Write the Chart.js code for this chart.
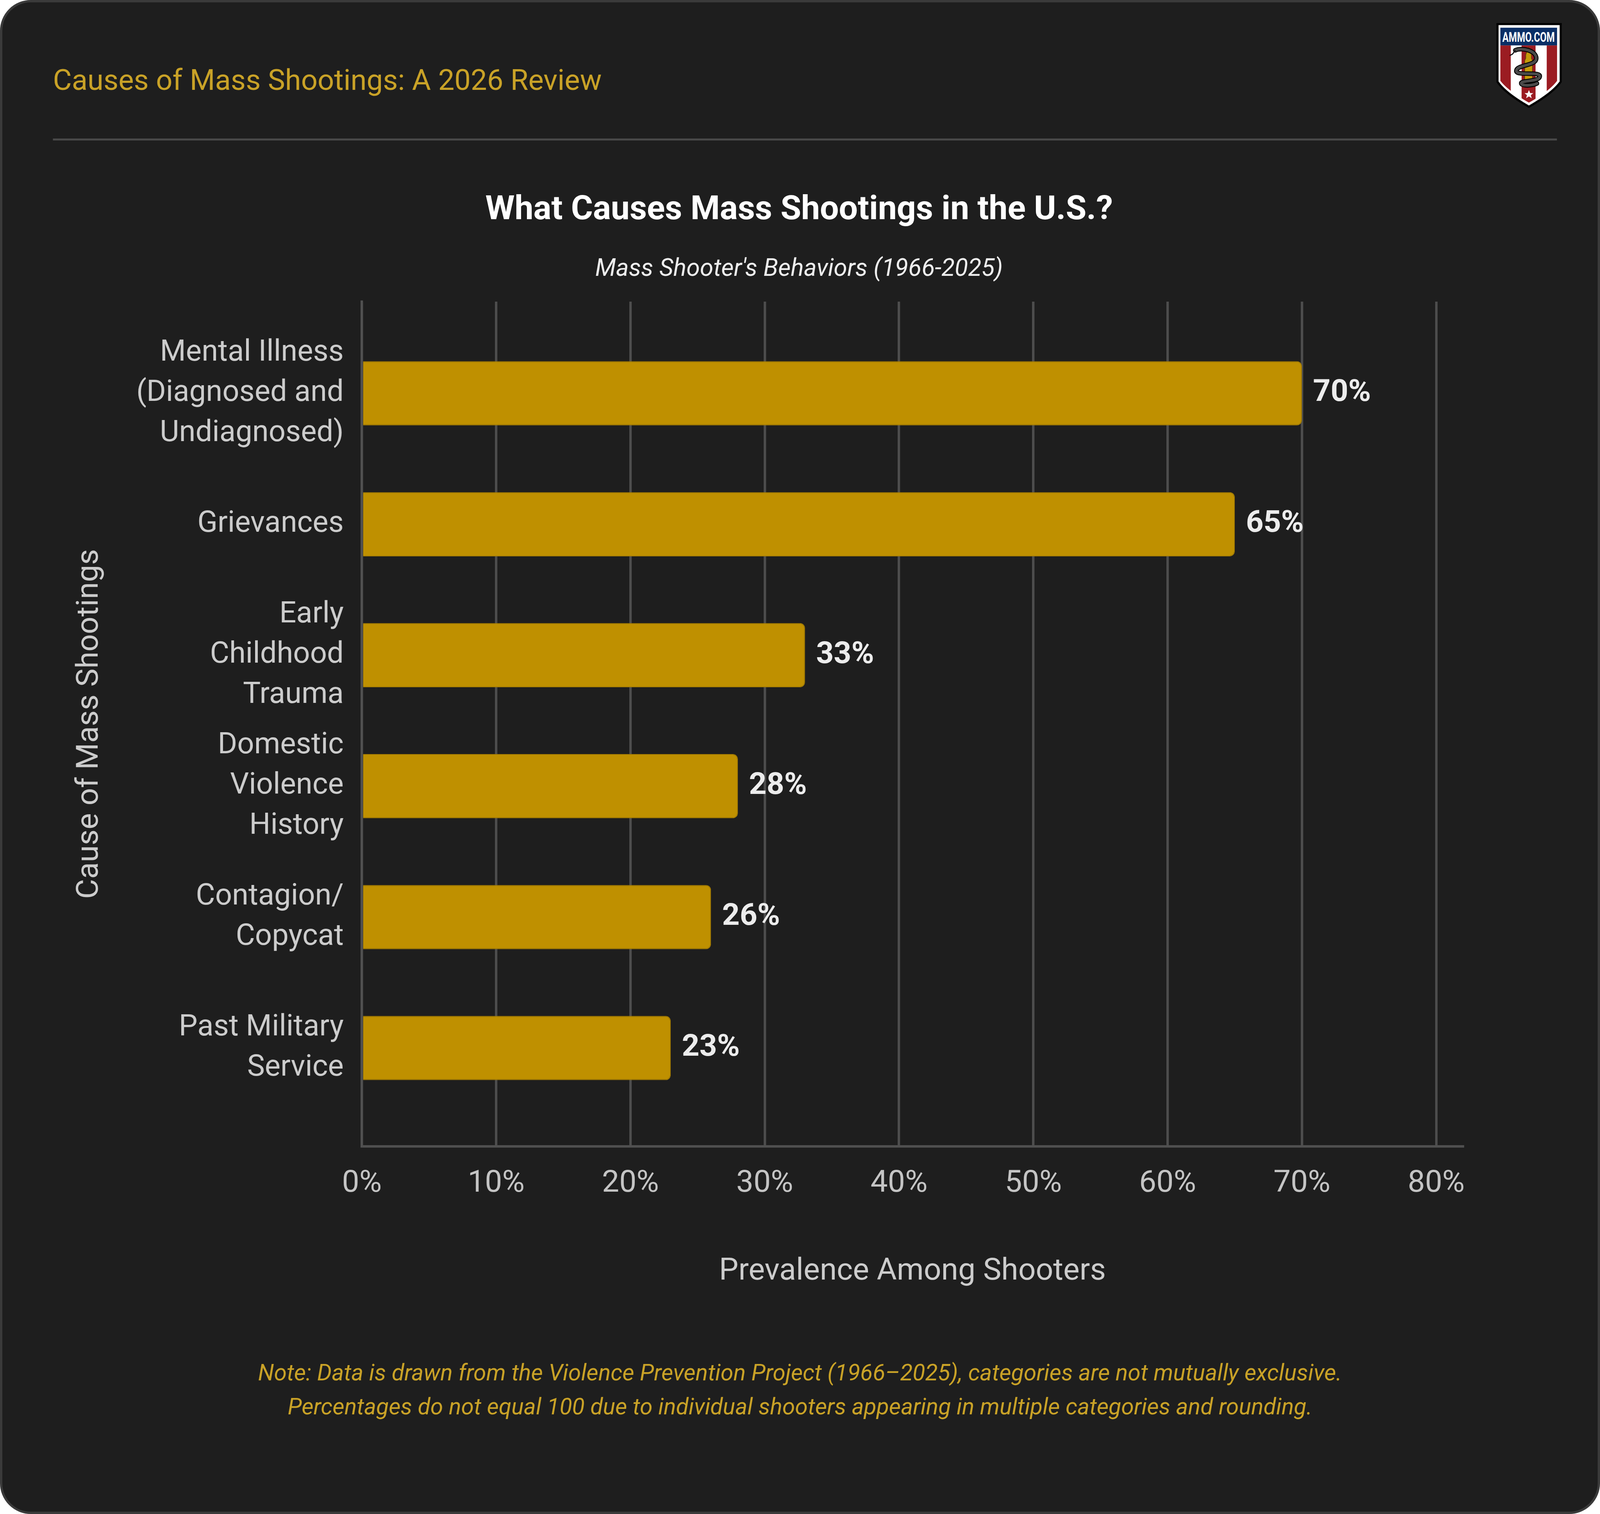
<!DOCTYPE html>
<html>
<head>
<meta charset="utf-8">
<title>What Causes Mass Shootings in the U.S.?</title>
<script src="https://cdn.jsdelivr.net/npm/chart.js@4.4.1/dist/chart.umd.min.js"></script>
<style>
  html, body { margin: 0; padding: 0; background: #ffffff; overflow: hidden; }
  #page { position: relative; }
  #deco { position: absolute; left: 0; top: 0; }
  #chart { position: absolute; left: 0; }
</style>
</head>
<body>
<div id="page">
  <svg id="deco" xmlns="http://www.w3.org/2000/svg"></svg>
  <canvas id="chart"></canvas>
</div>

<script>
// data
const causes = [
  ['Mental Illness', '(Diagnosed and', 'Undiagnosed)'],
  ['Grievances'],
  ['Early', 'Childhood', 'Trauma'],
  ['Domestic', 'Violence', 'History'],
  ['Contagion/', 'Copycat'],
  ['Past Military', 'Service']
];
const prevalence = [70, 65, 33, 28, 26, 23];
const xTicks = [0, 10, 20, 30, 40, 50, 60, 70, 80];

const GOLD = '#bf9000';
const GRID = '#4d4d4d';
const ACCENT = '#c9a227';

// layout is measured on a 5200 x 3875 design and scaled to the window
const W = window.innerWidth, H = window.innerHeight;
const sx = W / 5200, sy = H / 3875;
const fs = Math.min(1, (sx + sy) / 2);
const X = v => v * sx;
const Y = v => v * sy;

function buildDeco() {
  const svg = document.getElementById('deco');
  svg.setAttribute('width', W);
  svg.setAttribute('height', H);
  const page = document.getElementById('page');
  page.style.width = W + 'px';
  page.style.height = H + 'px';

  svg.innerHTML = `
    <defs>
      <clipPath id="shieldInner">
        <path d="M4887,72 H5050 V224 Q5030,252 4969,287 Q4908,252 4887,224 Z"/>
      </clipPath>
    </defs>
    <rect x="3" y="3" width="${W - 6}" height="${H - 6}" rx="${85 * fs}" ry="${85 * fs}"
          fill="#1e1e1e" stroke="#3a3a3a" stroke-width="6"/>
    <text x="${X(172)}" y="${Y(230)}" font-family="Roboto" font-size="${83 * fs}" fill="${ACCENT}">Causes of Mass Shootings: A 2026 Review</text>
    <line x1="${X(172)}" y1="${Y(357)}" x2="${X(5060)}" y2="${Y(357)}" stroke="#4a4a4a" stroke-width="5"/>

    <g transform="translate(${X(4969)} ${Y(59)}) scale(${fs}) translate(-4969 -59)">
      <path d="M4876,59 H5063 V228 Q5040,262 4969,302 Q4898,262 4876,228 Z" fill="#000000"/>
      <path d="M4882,65 H5057 V226 Q5035,257 4969,295 Q4903,257 4882,226 Z" fill="#ffffff"/>
      <g clip-path="url(#shieldInner)">
        <rect x="4887" y="123" width="30" height="170" fill="#9b1c22"/>
        <rect x="4948" y="123" width="40" height="170" fill="#9b1c22"/>
        <rect x="5020" y="123" width="30" height="170" fill="#9b1c22"/>
        <rect x="4887" y="72" width="163" height="51" fill="#0a2f66"/>
      </g>
      <text x="4968" y="113" font-family="Roboto" font-weight="bold" font-size="40" fill="#ffffff"
            text-anchor="middle" textLength="150" lengthAdjust="spacingAndGlyphs">AMMO.COM</text>
      <path d="M4968,128 L4976,150 V160 L4979,166 V237 H4957 V166 L4960,160 V150 Z" fill="#c49a0a" stroke="#5a4500" stroke-width="1.5"/>
      <path d="M4930,137 C4950,128 4990,138 4990,160 C4990,182 4935,178 4933,195 C4931,212 5002,196 5000,212 C4998,228 4945,222 4947,232 C4949,240 4980,238 4992,232"
            fill="none" stroke="#000000" stroke-width="13" stroke-linecap="round"/>
      <path d="M4930,137 C4950,128 4990,138 4990,160 C4990,182 4935,178 4933,195 C4931,212 5002,196 5000,212 C4998,228 4945,222 4947,232 C4949,240 4980,238 4992,232"
            fill="none" stroke="#4a4a4a" stroke-width="8" stroke-linecap="round"/>
      <path d="M4930,137 L4922,148 L4914,152" fill="none" stroke="#000000" stroke-width="3"/>
      <path d="M4969,251 L4972.5,259.5 L4981.5,259.8 L4974.5,265.5 L4977,274.3 L4969,269 L4961,274.3 L4963.5,265.5 L4956.5,259.8 L4965.5,259.5 Z" fill="#ffffff"/>
    </g>

    <text x="${X(2600)}" y="${Y(3533)}" font-family="Roboto" font-style="italic" font-size="${66 * fs}" fill="${ACCENT}" text-anchor="middle">Note: Data is drawn from the Violence Prevention Project (1966–2025), categories are not mutually exclusive.</text>
    <text x="${X(2600)}" y="${Y(3620)}" font-family="Roboto" font-style="italic" font-size="${66 * fs}" fill="${ACCENT}" text-anchor="middle">Percentages do not equal 100 due to individual shooters appearing in multiple categories and rounding.</text>
  `;
}

// value labels at the end of each bar
const barLabels = {
  id: 'barLabels',
  afterDatasetsDraw(chart) {
    const ctx = chart.ctx;
    const meta = chart.getDatasetMeta(0);
    ctx.save();
    ctx.font = `bold ${88 * fs}px Roboto`;
    ctx.fillStyle = '#ececec';
    ctx.textAlign = 'left';
    ctx.textBaseline = 'middle';
    meta.data.forEach((bar, i) => {
      ctx.fillText(prevalence[i] + '%', bar.x + X(36), bar.y);
    });
    ctx.restore();
  }
};

function draw() {
  buildDeco();
  Chart.defaults.font.family = 'Roboto';

  // vertical bands of the chart, in window pixels
  const canvasTop = Y(380);
  const titleLh = 96 * fs * 1.2, subLh = 70 * fs * 1.2;
  const titleMid = Y(540), subMid = Y(690), areaTop = Y(772), areaBottom = Y(2934);
  const gap = (subMid - titleMid - titleLh / 2 - subLh / 2) / 2;

  const tickLh = 88 * fs * 1.2, axisTitleLh = 88 * fs * 1.2;
  const tickPad = Y(3031) - areaBottom - tickLh / 2;
  const xTitlePad = Y(3256) - areaBottom - axisTitleLh / 2 - tickLh - 2 * tickPad;
  const canvasH = Math.round(areaBottom + xTitlePad + axisTitleLh + tickLh + 2 * tickPad - canvasTop);

  const canvas = document.getElementById('chart');
  canvas.width = W;
  canvas.height = canvasH;
  canvas.style.width = W + 'px';
  canvas.style.height = canvasH + 'px';
  canvas.style.top = canvasTop + 'px';

  const padLeft = X(439), padRight = W - X(4755);
  const yTitleLh = 88 * fs * 1.2;
  const yTickSize = 85 * fs;

  new Chart(canvas, {
    type: 'bar',
    data: {
      datasets: [{
        data: prevalence.map((v, i) => ({ x: v, y: i })),
        backgroundColor: GOLD,
        borderColor: '#a67d00',
        borderWidth: 2,
        borderSkipped: 'start',
        borderRadius: 14 * fs,
        barPercentage: 0.49,
        categoryPercentage: 1
      }]
    },
    options: {
      indexAxis: 'y',
      responsive: false,
      devicePixelRatio: 1,
      animation: false,
      layout: { padding: { left: padLeft, right: padRight, top: 0, bottom: 0 } },
      plugins: {
        legend: { display: false },
        tooltip: { enabled: false },
        title: {
          display: true,
          text: 'What Causes Mass Shootings in the U.S.?',
          color: '#ffffff',
          font: { size: 96 * fs, weight: 'bold', lineHeight: 1.2 },
          padding: { top: titleMid - canvasTop - titleLh / 2, bottom: gap }
        },
        subtitle: {
          display: true,
          text: "Mass Shooter's Behaviors (1966-2025)",
          color: '#eeeeee',
          font: { size: 70 * fs, style: 'italic', lineHeight: 1.2 },
          padding: { top: gap, bottom: areaTop - subMid - subLh / 2 }
        }
      },
      scales: {
        x: {
          type: 'linear',
          min: 0,
          max: 82,
          afterBuildTicks: s => { s.ticks = xTicks.map(v => ({ value: v })); },
          ticks: {
            callback: v => v + '%',
            color: '#c4c4c4',
            font: { size: 88 * fs, lineHeight: 1.2 },
            padding: tickPad
          },
          grid: { color: GRID, lineWidth: 7 * fs, drawTicks: false },
          border: { display: true, color: '#505050', width: 7 * fs },
          title: {
            display: true,
            text: 'Prevalence Among Shooters',
            color: '#cccccc',
            font: { size: 88 * fs, lineHeight: 1.2 },
            padding: { top: xTitlePad, bottom: 0 }
          }
        },
        y: {
          type: 'linear',
          reverse: true,
          offset: false,
          min: -0.70,
          max: 5.75,
          afterBuildTicks: s => { s.ticks = causes.map((c, i) => ({ value: i })); },
          afterFit: s => { s.width = X(1176) - padLeft; },
          ticks: {
            callback: v => causes[v],
            autoSkip: false,
            color: '#cccccc',
            font: { size: yTickSize, lineHeight: Y(103) / yTickSize },
            padding: X(59)
          },
          grid: { display: false, drawTicks: false, offset: false },
          border: { display: true, color: '#505050', width: 7 * fs },
          title: {
            display: true,
            text: 'Cause of Mass Shootings',
            color: '#cccccc',
            font: { size: 88 * fs, lineHeight: 1.2 },
            padding: { top: X(292) - padLeft - yTitleLh / 2, bottom: 0 }
          }
        }
      }
    },
    plugins: [barLabels]
  });
}

Promise.all([
  document.fonts.load('88px Roboto'),
  document.fonts.load('bold 96px Roboto'),
  document.fonts.load('italic 70px Roboto')
]).then(draw, draw);
</script>
</body>
</html>
